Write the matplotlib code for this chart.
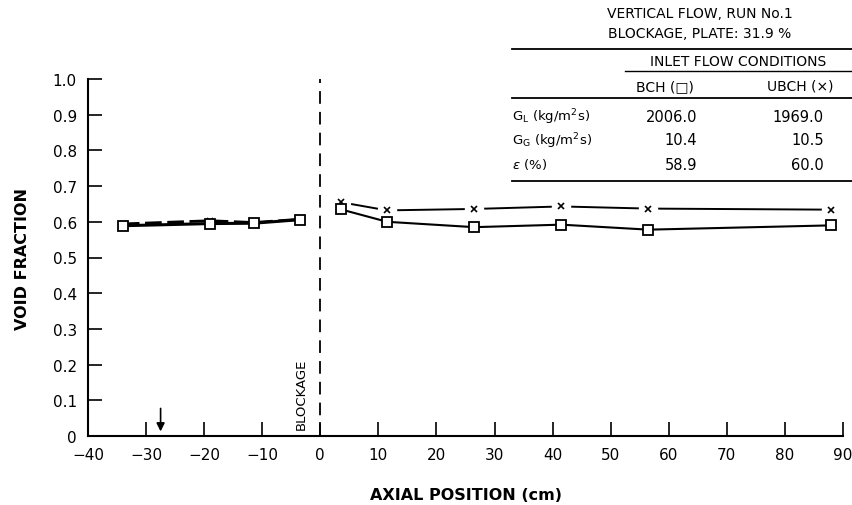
import matplotlib
matplotlib.use("Agg")
import matplotlib.pyplot as plt
from matplotlib.lines import Line2D

# Measurement stations (cm) and void fractions
x_up = [-34.0, -19.0, -11.5, -3.5]
x_down = [3.5, 11.5, 26.5, 41.5, 56.5, 88.0]

bch_up = [0.589, 0.595, 0.596, 0.606]
bch_down = [0.635, 0.600, 0.585, 0.592, 0.578, 0.590]
ubch_up = [0.594, 0.603, 0.598, 0.607]
ubch_down = [0.655, 0.632, 0.636, 0.643, 0.637, 0.634]

x_ticks = [-40, -30, -20, -10, 0, 10, 20, 30, 40, 50, 60, 70, 80, 90]
y_ticks = [0, 0.1, 0.2, 0.3, 0.4, 0.5, 0.6, 0.7, 0.8, 0.9, 1.0]
y_ticklabels = ["0", "0.1", "0.2", "0.3", "0.4", "0.5", "0.6", "0.7", "0.8", "0.9", "1.0"]

arrow_x = -27.5

# inlet flow table
table_rows = ["G$_\\mathrm{L}$ (kg/m$^2$s)", "G$_\\mathrm{G}$ (kg/m$^2$s)", "$\\epsilon$ (%)"]
bch_vals = ["2006.0", "10.4", "58.9"]
ubch_vals = ["1969.0", "10.5", "60.0"]

plt.rcParams["font.family"] = ["DejaVu Sans"]
plt.rcParams["mathtext.fontset"] = "dejavusans"

fig = plt.figure(figsize=(8.52, 5.06), dpi=100)
ax = fig.add_axes([88 / 852, 69 / 506, 755 / 852, 357 / 506])

# upstream: both curves lie on top of each other
ax.plot(x_up, ubch_up, color="black", lw=2.0, ls=(0, (6, 2)))
ax.plot(x_up, bch_up, color="black", lw=2.2)
ax.plot(x_up, ubch_up, ls="none", marker="x", ms=5, mew=1.2, color="black")
ax.plot(x_up, bch_up, ls="none", marker="s", ms=7, mfc="white", mec="black", mew=1.3)

# downstream
ax.plot(x_down, ubch_down, color="black", lw=1.4)
ax.plot(x_down, ubch_down, ls="none", marker="o", ms=13, mfc="white", mec="white")
ax.plot(x_down, ubch_down, ls="none", marker="x", ms=5, mew=1.2, color="black")
ax.plot(x_down, bch_down, color="black", lw=1.5)
ax.plot(x_down, bch_down, ls="none", marker="s", ms=7, mfc="white", mec="black", mew=1.3)

# blockage plate
ax.axvline(0, ymin=0, ymax=1.0, color="black", lw=1.3, ls=(0, (7, 4.5)))
ax.text(-3.2, 0.02, "BLOCKAGE", rotation=90, ha="center", va="bottom", fontsize=9.5)

# inlet position arrow
ax.annotate("", xy=(arrow_x, 0.005), xytext=(arrow_x, 0.085),
            arrowprops=dict(arrowstyle="-|>", color="black", lw=1.2,
                            mutation_scale=12))

ax.set_xlim(-40, 90)
ax.set_ylim(0, 1.0)
ax.set_xticks(x_ticks)
ax.set_yticks(y_ticks)
ax.set_yticklabels(y_ticklabels)
ax.tick_params(direction="in", length=10, width=1.2, labelsize=11, pad=8)
for side in ["top", "right"]:
    ax.spines[side].set_visible(False)
for side in ["left", "bottom"]:
    ax.spines[side].set_linewidth(1.5)

ax.set_xlabel("AXIAL POSITION (cm)", fontsize=11.5, fontweight="bold", labelpad=18)
ax.set_ylabel("VOID FRACTION", fontsize=11.5, fontweight="bold", labelpad=16)

# table in the top-right corner (figure pixel coords -> fraction)
def fx(px):
    return px / 852


def fy(py):
    return 1 - py / 506


fig.text(fx(700), fy(14), "VERTICAL FLOW, RUN No.1", ha="center", va="center", fontsize=10)
fig.text(fx(700), fy(34), "BLOCKAGE, PLATE: 31.9 %", ha="center", va="center", fontsize=10)
for yy in [50, 99, 182]:
    fig.add_artist(Line2D([fx(512), fx(852)], [fy(yy), fy(yy)], color="black", lw=1.3))
fig.text(fx(738), fy(62), "INLET FLOW CONDITIONS", ha="center", va="center", fontsize=10)
fig.add_artist(Line2D([fx(625), fx(852)], [fy(72), fy(72)], color="black", lw=1.0))
fig.text(fx(665), fy(87), "BCH (\u25a1)", ha="center", va="center", fontsize=10)
fig.text(fx(800), fy(87), "UBCH (\u00d7)", ha="center", va="center", fontsize=10)
for i, (lab, b, u) in enumerate(zip(table_rows, bch_vals, ubch_vals)):
    yy = 117 + i * 24
    fig.text(fx(512), fy(yy), lab, ha="left", va="center", fontsize=9.5)
    fig.text(fx(697), fy(yy), b, ha="right", va="center", fontsize=10.5)
    fig.text(fx(824), fy(yy), u, ha="right", va="center", fontsize=10.5)

fig.savefig("out.png", dpi=100)
